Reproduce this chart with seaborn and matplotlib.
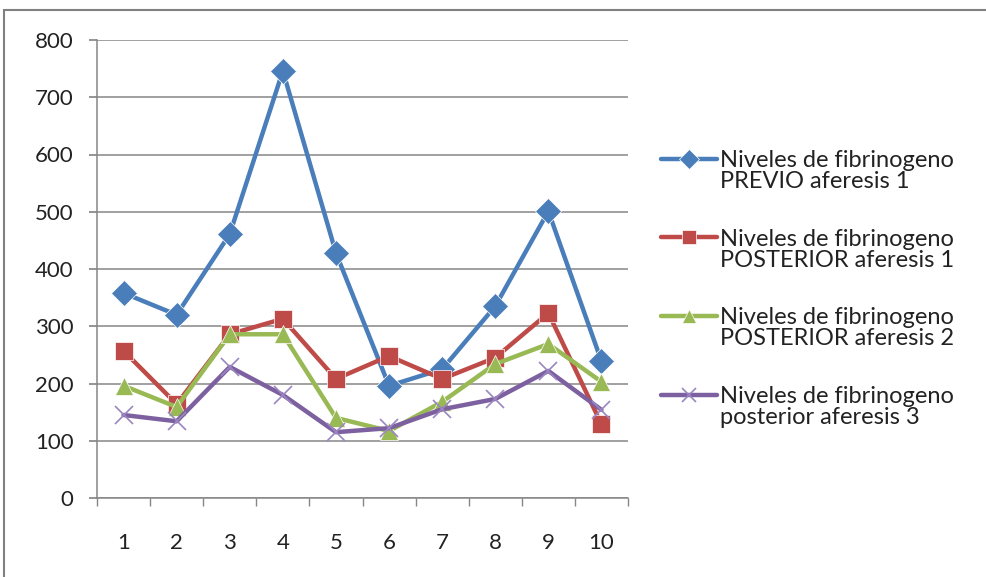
import numpy as np
import pandas as pd
import seaborn as sns
import matplotlib.pyplot as plt
from matplotlib.patches import Rectangle
from matplotlib.ticker import FixedLocator
from matplotlib.lines import Line2D
from matplotlib.legend_handler import HandlerLine2D

categories = [1, 2, 3, 4, 5, 6, 7, 8, 9, 10]
previo_1 = [358, 320, 461, 746, 428, 196, 225, 335, 501, 239]
posterior_1 = [257, 164, 286, 313, 208, 248, 208, 245, 323, 129]
posterior_2 = [196, 159, 286, 286, 140, 117, 168, 234, 269, 203]
posterior_3 = [145, 134, 229, 180, 115, 122, 155, 173, 222, 154]
series_names = [
    "Niveles de fibrinogeno\nPREVIO aferesis 1",
    "Niveles de fibrinogeno\nPOSTERIOR aferesis 1",
    "Niveles de fibrinogeno\nPOSTERIOR aferesis 2",
    "Niveles de fibrinogeno\nposterior aferesis 3",
]
y_ticks = [0, 100, 200, 300, 400, 500, 600, 700, 800]

frames = []
for name, vals in zip(series_names, [previo_1, posterior_1, posterior_2, posterior_3]):
    frames.append(pd.DataFrame({"x": categories, "y": vals, "serie": name}))
df = pd.concat(frames, ignore_index=True)

sns.set_theme(style="white")
plt.rcParams['font.family'] = ['Lato', 'DejaVu Sans']

fig = plt.figure(figsize=(9.86, 5.77), dpi=100)
ax = fig.add_axes([97/986, 1-498/577, (628-97)/986, (498-40)/577])

palette = ["#4A7EBB", "#BE4B48", "#98B954", "#7D60A0"]
markers = ["D", "s", "^", "X"]
sizes = {"D": 13.5, "s": 13.5, "^": 12.5}
sns.lineplot(data=df, x="x", y="y", hue="serie", style="serie",
             palette=palette, markers=markers, dashes=False,
             linewidth=3.2, markersize=12, markeredgewidth=0.5,
             ax=ax, legend=True)
for line in ax.lines:
    m = line.get_marker()
    if m == "X":
        line.set_marker("x")
        line.set_markersize(13)
        line.set_markeredgewidth(1.2)
        line.set_markeredgecolor("#9A86C0")
    elif m in sizes:
        line.set_markersize(sizes[m])

ax.set_xlim(0.5, 10.5)
ax.set_ylim(0, 800)
ax.set_yticks(y_ticks)
ax.set_xticks(categories)
ax.xaxis.set_minor_locator(FixedLocator(np.arange(0.5, 11, 1)))
ax.yaxis.grid(True, color="#868686", linewidth=1.1)
ax.set_axisbelow(True)
ax.set_xlabel("")
ax.set_ylabel("")
for s in ["top", "right"]:
    ax.spines[s].set_visible(False)
for s in ["left", "bottom"]:
    ax.spines[s].set_color("#868686")
    ax.spines[s].set_linewidth(1.1)
ax.tick_params(axis="y", which="major", left=True, length=6, color="#868686",
               labelsize=16, pad=11, labelcolor="#222222")
ax.tick_params(axis="x", which="major", bottom=False, length=0, labelsize=16,
               pad=25, labelcolor="#222222")
ax.tick_params(axis="x", which="minor", bottom=True, length=6, color="#868686")


class UpHandler(HandlerLine2D):
    def __init__(self, dy, **kw):
        super().__init__(**kw)
        self.dy = dy

    def create_artists(self, legend, orig_handle, xdescent, ydescent, width,
                       height, fontsize, trans):
        arts = super().create_artists(legend, orig_handle, xdescent, ydescent,
                                      width, height, fontsize, trans)
        for a in arts:
            a.set_ydata(np.asarray(a.get_ydata(), dtype=float) + self.dy)
        return arts


handles, labels = ax.get_legend_handles_labels()
for h in handles:
    h.set_linewidth(3.2)
    if h.get_marker() == "X":
        h.set_marker("x")
        h.set_markeredgewidth(1.2)
        h.set_markeredgecolor("#9A86C0")
leg = ax.legend(handles, labels, loc="center left", bbox_to_anchor=(640/986, 1-289/577),
                bbox_transform=fig.transFigure, frameon=False, fontsize=17,
                handlelength=2.35, handletextpad=0.12, labelspacing=1.55, markerscale=0.75,
                handler_map={Line2D: UpHandler(dy=9)})
for t in leg.get_texts():
    t.set_color("#222222")
    t.set_linespacing(1.0)

fig.patches.append(Rectangle((4/986, -0.05), 1.1, 1-10/577+0.05, transform=fig.transFigure,
                             fill=False, edgecolor="#808080", linewidth=1.5))

fig.savefig("out.png", dpi=100, facecolor="white")
